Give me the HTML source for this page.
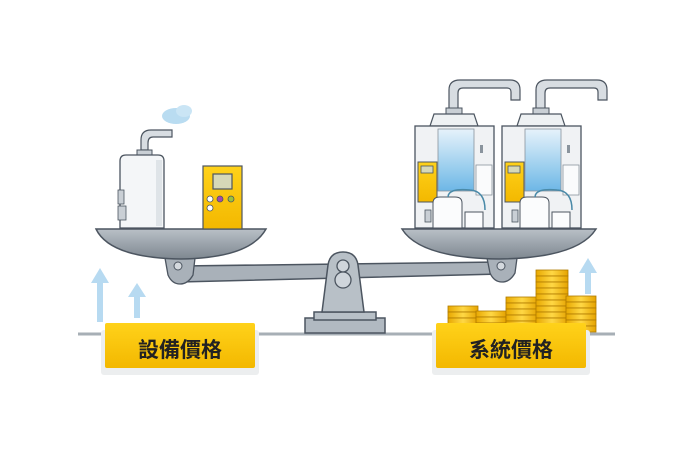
<!DOCTYPE html>
<html><head><meta charset="utf-8"><style>
html,body{margin:0;padding:0;background:#fff;width:690px;height:460px;overflow:hidden}
</style></head><body>
<svg width="690" height="460" viewBox="0 0 690 460" xmlns="http://www.w3.org/2000/svg">
<defs>
<linearGradient id="yl" x1="0" y1="0" x2="0" y2="1"><stop offset="0" stop-color="#ffd21a"/><stop offset="1" stop-color="#f3b800"/></linearGradient>
<linearGradient id="pan" x1="0" y1="0" x2="0" y2="1"><stop offset="0" stop-color="#b9c0c7"/><stop offset="1" stop-color="#7e8790"/></linearGradient>
<linearGradient id="coin" x1="0" y1="0" x2="1" y2="0"><stop offset="0" stop-color="#e8a800"/><stop offset=".5" stop-color="#ffd845"/><stop offset="1" stop-color="#e5a300"/></linearGradient>
<linearGradient id="water" x1="0" y1="0" x2="0" y2="1"><stop offset="0" stop-color="#e6f2fb"/><stop offset=".5" stop-color="#a9d5f0"/><stop offset="1" stop-color="#6db7e6"/></linearGradient>
</defs>
<!-- ground line -->
<line x1="78" y1="334" x2="615" y2="334" stroke="#a7afb6" stroke-width="3"/>
<!-- arrows -->
<g fill="#b7daf1">
<rect x="97" y="282" width="6" height="40"/><polygon points="91,283 100,268 109,283"/>
<rect x="134" y="296" width="6" height="22"/><polygon points="128,297 137,283 146,297"/>
<rect x="585" y="272" width="6" height="22"/><polygon points="579,273 588,258 597,273"/>
</g>
<!-- beam -->
<polygon points="180,266 500,262 500,274 180,282" fill="#a9b1b9" stroke="#4c5560" stroke-width="1.5"/>
<!-- pivot -->
<rect x="305" y="318" width="80" height="15" fill="#b1b9c1" stroke="#4c5560" stroke-width="1.5"/>
<rect x="314" y="312" width="62" height="8" fill="#b8c0c7" stroke="#4c5560" stroke-width="1.5"/>
<path d="M322,312 L328,265 Q330,252 343,252 Q356,252 358,265 L364,312 Z" fill="#b8c0c7" stroke="#4c5560" stroke-width="1.5"/>
<circle cx="343" cy="266" r="6" fill="#cfd5db" stroke="#4c5560" stroke-width="1.3"/>
<circle cx="343" cy="280" r="8" fill="#cfd5db" stroke="#4c5560" stroke-width="1.3"/>
<!-- hinges -->
<path d="M165,258 L195,258 L193,275 Q188,284 180,284 Q172,284 168,275 Z" fill="#a9b1b9" stroke="#4c5560" stroke-width="1.3"/>
<circle cx="178" cy="266" r="4" fill="#d4d9de" stroke="#4c5560"/>
<path d="M487,258 L517,258 L515,273 Q510,282 502,282 Q494,282 490,273 Z" fill="#a9b1b9" stroke="#4c5560" stroke-width="1.3"/>
<circle cx="501" cy="266" r="4" fill="#d4d9de" stroke="#4c5560"/>
<!-- pans -->
<path d="M96,229 L266,229 Q250,258 181,259 Q110,258 96,229 Z" fill="url(#pan)" stroke="#4c5560" stroke-width="1.5"/>
<path d="M402,229 L596,229 Q578,258 499,259 Q420,258 402,229 Z" fill="url(#pan)" stroke="#4c5560" stroke-width="1.5"/>
<!-- left heater -->
<ellipse cx="176" cy="116" rx="14" ry="8" fill="#b9dcf1"/>
<ellipse cx="184" cy="111" rx="8" ry="6" fill="#cae5f5"/>
<path d="M141,150 L141,140 Q141,130 151,130 L172,130 L172,137 L153,137 Q148,137 148,143 L148,150 Z" fill="#d8dde2" stroke="#4c5560" stroke-width="1.2"/>
<rect x="137" y="150" width="15" height="6" fill="#c9cfd5" stroke="#4c5560"/>
<path d="M120,161 Q120,155 126,155 L158,155 Q164,155 164,161 L164,228 L120,228 Z" fill="#f4f6f8" stroke="#4c5560" stroke-width="1.3"/>
<rect x="156" y="160" width="6" height="66" fill="#dfe4e8"/>
<rect x="118" y="190" width="6" height="14" fill="#c9cfd5" stroke="#4c5560" stroke-width=".8"/>
<rect x="118" y="206" width="8" height="14" fill="#c9cfd5" stroke="#4c5560" stroke-width=".8"/>
<!-- yellow panel -->
<rect x="203" y="166" width="39" height="63" fill="url(#yl)" stroke="#4c5560" stroke-width="1.2"/>
<rect x="213" y="174" width="19" height="15" fill="#d6d8b8" stroke="#4c5560" stroke-width="1.2"/>
<circle cx="210" cy="199" r="3" fill="#fff" stroke="#4c5560" stroke-width=".8"/>
<circle cx="220" cy="199" r="3" fill="#a04ab0" stroke="#4c5560" stroke-width=".8"/>
<circle cx="231" cy="199" r="3" fill="#9bc23c" stroke="#4c5560" stroke-width=".8"/>
<circle cx="210" cy="208" r="3" fill="#fff" stroke="#4c5560" stroke-width=".8"/>
<!-- right units -->
<g id="u">
<path d="M449,112 L449,90 Q449,80 460,80 L510,80 Q520,80 520,90 L520,100 L511,100 L511,92 Q511,88 507,88 L463,88 Q458,88 458,93 L458,112 Z" fill="#d8dde2" stroke="#4c5560" stroke-width="1.2"/>
<rect x="446" y="108" width="16" height="6" fill="#c9cfd5" stroke="#4c5560"/>
<path d="M430,126 L434,114 L474,114 L478,126 Z" fill="#eef1f3" stroke="#4c5560" stroke-width="1.2"/>
<rect x="415" y="126" width="79" height="102" fill="#f0f2f4" stroke="#4c5560" stroke-width="1.3"/>
<rect x="438" y="129" width="36" height="62" fill="url(#water)" stroke="#8a949d" stroke-width=".8"/>
<rect x="418" y="162" width="19" height="40" fill="url(#yl)" stroke="#4c5560" stroke-width="1"/>
<rect x="421" y="166" width="12" height="7" fill="#d6d8b8" stroke="#4c5560" stroke-width=".8"/>
<rect x="476" y="165" width="16" height="30" fill="#fafbfc" stroke="#8a949d" stroke-width=".8"/>
<rect x="480" y="145" width="3" height="8" fill="#8a949d"/>
<path d="M433,203 Q433,197 440,197 L455,197 Q462,197 462,203 L462,228 L433,228 Z" fill="#fbfcfd" stroke="#4c5560" stroke-width="1"/>
<rect x="465" y="212" width="18" height="16" fill="#fbfcfd" stroke="#4c5560" stroke-width="1"/>
<path d="M448,197 Q448,188 470,190 Q485,191 485,210" fill="none" stroke="#4a8aa8" stroke-width="1.5"/>
<rect x="425" y="210" width="6" height="12" fill="#c9cfd5" stroke="#4c5560" stroke-width=".8"/>
</g>
<use href="#u" transform="translate(87,0)"/>
<!-- coins -->
<g stroke="#b07a00" stroke-width=".8" fill="url(#coin)">
<rect x="448" y="306" width="30" height="6"/><rect x="448" y="312" width="30" height="6"/><rect x="448" y="318" width="30" height="6"/><rect x="448" y="324" width="30" height="6"/>
<rect x="476" y="311" width="30" height="6"/><rect x="476" y="317" width="30" height="6"/><rect x="476" y="323" width="30" height="6"/>
<rect x="506" y="297" width="32" height="6"/><rect x="506" y="303" width="32" height="6"/><rect x="506" y="309" width="32" height="6"/><rect x="506" y="315" width="32" height="6"/><rect x="506" y="321" width="32" height="6"/>
<rect x="536" y="270" width="32" height="6"/><rect x="536" y="276" width="32" height="6"/><rect x="536" y="282" width="32" height="6"/><rect x="536" y="288" width="32" height="6"/><rect x="536" y="294" width="32" height="6"/><rect x="536" y="300" width="32" height="6"/><rect x="536" y="306" width="32" height="6"/><rect x="536" y="312" width="32" height="6"/><rect x="536" y="318" width="32" height="6"/>
<rect x="566" y="296" width="30" height="6"/><rect x="566" y="302" width="30" height="6"/><rect x="566" y="308" width="30" height="6"/><rect x="566" y="314" width="30" height="6"/><rect x="566" y="320" width="30" height="6"/><rect x="566" y="326" width="30" height="6"/>
</g>
<!-- labels -->
<rect x="101" y="330" width="158" height="45" rx="3" fill="#eceeef"/>
<rect x="105" y="323" width="150" height="45" rx="2" fill="url(#yl)"/>
<text x="180" y="357" text-anchor="middle" font-family="'Liberation Sans','Noto Sans CJK TC',sans-serif" font-size="21" font-weight="bold" fill="#222">設備價格</text>
<rect x="432" y="330" width="158" height="45" rx="3" fill="#eceeef"/>
<rect x="436" y="323" width="150" height="45" rx="2" fill="url(#yl)"/>
<text x="511" y="357" text-anchor="middle" font-family="'Liberation Sans','Noto Sans CJK TC',sans-serif" font-size="21" font-weight="bold" fill="#222">系統價格</text>
</svg>
</body></html>
